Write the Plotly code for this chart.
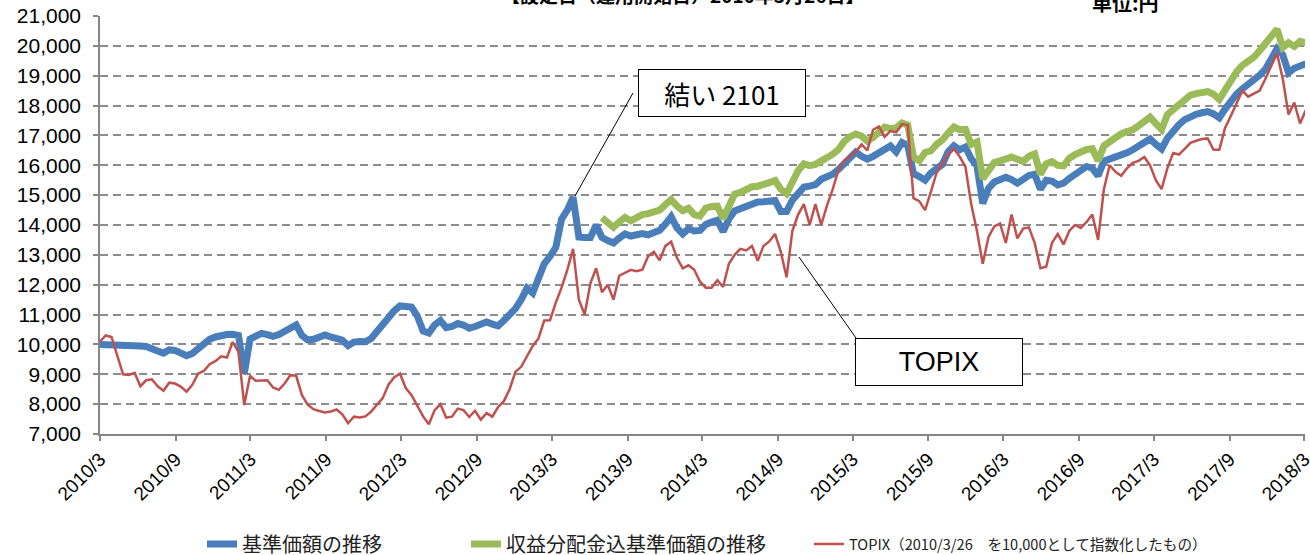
import pandas as pd
import plotly.graph_objects as go

# ---- data (one value every 14 days from 2010/3/26) ----
START_DATE = "2010-03-26"
N_POINTS = 210

nav = [
    10000, 10000, 10000, 9990, 9980, 9970, 9960, 9950, 9930, 9880,
    9780, 9710, 9820, 9800, 9700, 9620, 9700, 9850, 10030, 10170,
    10250, 10310, 10330, 10340, 10300, 9030, 10180, 10280, 10370, 10330,
    10270, 10330, 10430, 10540, 10650, 10300, 10150, 10170, 10250, 10320,
    10250, 10190, 10140, 9960, 10080, 10100, 10090, 10200, 10450, 10680,
    10900, 11130, 11290, 11260, 11250, 10950, 10450, 10380, 10650, 10800,
    10560, 10600, 10700, 10650, 10540, 10600, 10660, 10750, 10680, 10620,
    10800, 10970, 11200, 11500, 11880, 11720, 12250, 12700, 12950, 13250,
    14200, 14500, 14930, 13600, 13580, 13580, 14000, 13580, 13480, 13400,
    13560, 13700, 13630, 13660, 13710, 13670, 13750, 13820, 14030, 14280,
    13900, 13700, 13880, 13800, 13820, 14020, 14100, 14160, 13780, 14200,
    14470, 14550, 14640, 14740, 14770, 14780, 14790, 14820, 14450, 14450,
    14830, 15040, 15270, 15300, 15350, 15530, 15590, 15700, 15860, 16070,
    16300, 16440, 16300, 16210, 16300, 16420, 16560, 16650, 16450, 16760,
    16670, 15720, 15620, 15500, 15740, 15870, 16030, 16450, 16650, 16520,
    16610, 16220, 15980, 14720, 15230, 15440, 15510, 15600, 15520, 15400,
    15530, 15660, 15700, 15200, 15500, 15470, 15340, 15400, 15560, 15710,
    15870, 15960, 15900, 15650, 16140, 16200, 16270, 16330, 16420, 16520,
    16650, 16770, 16880, 16700, 16550, 16910, 17170, 17360, 17530, 17630,
    17710, 17760, 17800, 17720, 17590, 17880, 18170, 18380, 18560, 18700,
    18850, 19020, 19220, 19530, 19900, 19700, 19100, 19250, 19300, 19400,
]

nav_with_dividends = [None] * 87 + [
    14250, 14080, 13920,
    14100, 14250, 14140, 14240, 14350, 14380, 14430, 14500, 14680, 14850,
    14640, 14480, 14560, 14350, 14300, 14570, 14620, 14630, 14220, 14700,
    15030, 15090, 15180, 15280, 15300, 15340, 15420, 15490, 15200, 15050,
    15480, 15820, 16050, 15990, 16030, 16140, 16240, 16370, 16530, 16800,
    16960, 17050, 16980, 16810, 16930, 17100, 17280, 17230, 17250, 17420,
    17350, 16270, 16150, 16430, 16480, 16700, 16850, 17080, 17280, 17190,
    17200, 16700, 16780, 15550, 15850, 16090, 16150, 16210, 16280, 16200,
    16130, 16300, 16380, 15700, 16050, 16120, 16000, 15980, 16230, 16360,
    16470, 16530, 16550, 16150, 16650, 16790, 16910, 17050, 17130, 17190,
    17320, 17470, 17610, 17400, 17200, 17700, 17880, 18040, 18250, 18350,
    18400, 18440, 18470, 18380, 18210, 18520, 18840, 19130, 19350, 19490,
    19620, 19840, 20100, 20380, 20560, 19950, 20100, 19980, 20150, 20100,
]

topix = [
    10100, 10300, 10250, 9650, 9000, 8980, 9050, 8600, 8800, 8830,
    8600, 8450, 8720, 8690, 8590, 8420, 8650, 9020, 9110, 9340,
    9440, 9600, 9560, 10080, 9750, 7970, 8950, 8780, 8800, 8800,
    8560, 8480, 8690, 8970, 8950, 8300, 7980, 7830, 7770, 7720,
    7750, 7820, 7660, 7360, 7580, 7550, 7590, 7750, 7980, 8200,
    8650, 8900, 9020, 8540, 8300, 7920, 7590, 7330, 7800, 8000,
    7550, 7580, 7850, 7800, 7570, 7780, 7480, 7700, 7580, 7900,
    8100, 8500, 9080, 9250, 9600, 9950, 10200, 10800, 10810, 11400,
    11900, 12500, 13200, 11500, 11000, 12050, 12550, 11750, 12000, 11500,
    12300, 12400, 12500, 12450, 12500, 12950, 13100, 12820, 13300, 13440,
    12900, 12550, 12650, 12500, 12100, 11900, 11900, 12150, 11930, 12700,
    13000, 13200, 13150, 13300, 12800, 13300, 13450, 13700, 13100, 12250,
    13800, 14350, 14700, 14000, 14700, 14000, 14650, 15200, 15850, 16150,
    16300, 16450, 16700, 16500, 17190, 17300, 16950, 17150, 17100, 17380,
    17350, 14900, 14800, 14500, 15100, 15750, 16050, 16380, 16550, 16290,
    15950, 14700, 13800, 12700, 13600, 13950, 14050, 13400, 14350, 13550,
    13880, 13920, 13400, 12550, 12600, 13400, 13700, 13350, 13800, 14000,
    13900, 14100, 14350, 13500, 15200, 16000, 15780, 15650, 15900, 16080,
    16150, 16280, 16000, 15500, 15200, 15900, 16410, 16360, 16550, 16750,
    16820, 16880, 16900, 16520, 16520, 17250, 17650, 18100, 18500, 18300,
    18400, 18500, 18900, 19350, 19750, 18900, 17700, 18100, 17400, 17850,
]

series_names = [
    "基準価額の推移",
    "収益分配金込基準価額の推移",
    "TOPIX（2010/3/26　を10,000として指数化したもの）",
]
tick_dates = ["2010-03-26", "2010-09-26", "2011-03-26", "2011-09-26", "2012-03-26",
              "2012-09-26", "2013-03-26", "2013-09-26", "2014-03-26", "2014-09-26",
              "2015-03-26", "2015-09-26", "2016-03-26", "2016-09-26", "2017-03-26",
              "2017-09-26", "2018-03-26"]
tick_labels = ["2010/3", "2010/9", "2011/3", "2011/9", "2012/3", "2012/9", "2013/3",
               "2013/9", "2014/3", "2014/9", "2015/3", "2015/9", "2016/3", "2016/9",
               "2017/3", "2017/9", "2018/3"]
x_range = ["2010-03-26", "2018-03-28"]
y_range = [7000, 21000]

dates = pd.date_range(START_DATE, periods=N_POINTS, freq="14D")

# ---- styling ----
BLUE = "#4A7EBB"
GREEN = "#9BBB59"
RED = "#C0504D"
JP = "Noto Sans CJK JP"
LAT = "Liberation Sans"

fig = go.Figure()
fig.add_trace(go.Scatter(x=dates, y=nav, mode="lines", name=series_names[0],
                         line=dict(color=BLUE, width=7), legend="legend"))
fig.add_trace(go.Scatter(x=dates, y=nav_with_dividends, mode="lines", name=series_names[1],
                         line=dict(color=GREEN, width=7), legend="legend2"))
fig.add_trace(go.Scatter(x=dates, y=topix, mode="lines", name=series_names[2],
                         line=dict(color=RED, width=2.5), legend="legend3"))

L, R, T, B = 100, 5, 16, 121
W, H = 1310, 555
pw, ph = W - L - R, H - T - B


def px(xp):
    return (xp - L) / pw


def py(yp):
    return (H - B - yp) / ph


legend_common = dict(orientation="h", yanchor="middle", xanchor="left",
                     bgcolor="rgba(0,0,0,0)", borderwidth=0)

fig.update_layout(
    width=W, height=H,
    margin=dict(l=L, r=R, t=T, b=B, autoexpand=False),
    paper_bgcolor="white", plot_bgcolor="white",
    showlegend=True,
    legend=dict(x=px(202), y=py(544), font=dict(family=JP, size=20, color="#222"), **legend_common),
    legend2=dict(x=px(466), y=py(544), font=dict(family=JP, size=20, color="#222"), **legend_common),
    legend3=dict(x=px(809), y=py(544), font=dict(family=JP, size=14.6, color="#222"), **legend_common),
    xaxis=dict(
        type="date", range=x_range,
        tickmode="array", tickvals=tick_dates, ticktext=tick_labels,
        tickangle=-45, tickfont=dict(family=LAT, size=19, color="black"),
        ticklabeloverflow="allow",
        showgrid=False, showline=True, linecolor="#868686", linewidth=1.5,
        ticks="outside", ticklen=5, tickcolor="#868686", tickwidth=1.5,
        zeroline=False,
    ),
    yaxis=dict(
        range=y_range, tickmode="linear", tick0=7000, dtick=1000,
        tickformat=",d", tickfont=dict(family=LAT, size=21, color="black"),
        ticklabelstandoff=8,
        showgrid=True, gridcolor="#8C8C8C", gridwidth=1.5, griddash="8px,5px",
        showline=True, linecolor="#868686", linewidth=1.5,
        ticks="outside", ticklen=5, tickcolor="#868686", tickwidth=1.5,
        zeroline=False,
    ),
)

# callout boxes
fig.add_annotation(xref="paper", yref="paper", x=px(721.5), y=py(93),
                   xanchor="center", yanchor="middle",
                   text="結い 2101", showarrow=False,
                   font=dict(family=JP, size=26, color="black"),
                   bordercolor="black", borderwidth=1, borderpad=0,
                   width=166, height=46, bgcolor="white")
fig.add_annotation(xref="paper", yref="paper", x=px(939), y=py(362),
                   xanchor="center", yanchor="middle",
                   text="TOPIX", showarrow=False,
                   font=dict(family=LAT, size=27, color="black"),
                   bordercolor="black", borderwidth=1, borderpad=0,
                   width=166, height=46, bgcolor="white")
fig.add_shape(type="line", xref="paper", yref="paper",
              x0=px(633), y0=py(93), x1=px(575), y1=py(196),
              line=dict(color="black", width=1))
fig.add_shape(type="line", xref="paper", yref="paper",
              x0=px(799), y0=py(257), x1=px(856), y1=py(338),
              line=dict(color="black", width=1))

# header texts (partly cut off at the top edge as in the reference)
fig.add_annotation(xref="paper", yref="paper", x=px(682), y=py(10),
                   xanchor="center", yanchor="bottom",
                   text="<b>【設定日（運用開始日）2010年3月26日】</b>", showarrow=False,
                   font=dict(family=JP, size=19, color="black"))
fig.add_annotation(xref="paper", yref="paper", x=px(1125), y=py(19),
                   xanchor="center", yanchor="bottom",
                   text="<b>単位:円</b>", showarrow=False,
                   font=dict(family=JP, size=20, color="black"))

fig.write_html("out.html", config={"displayModeBar": False},
               post_script="document.body.style.margin='0px';document.body.style.overflow='hidden';")
